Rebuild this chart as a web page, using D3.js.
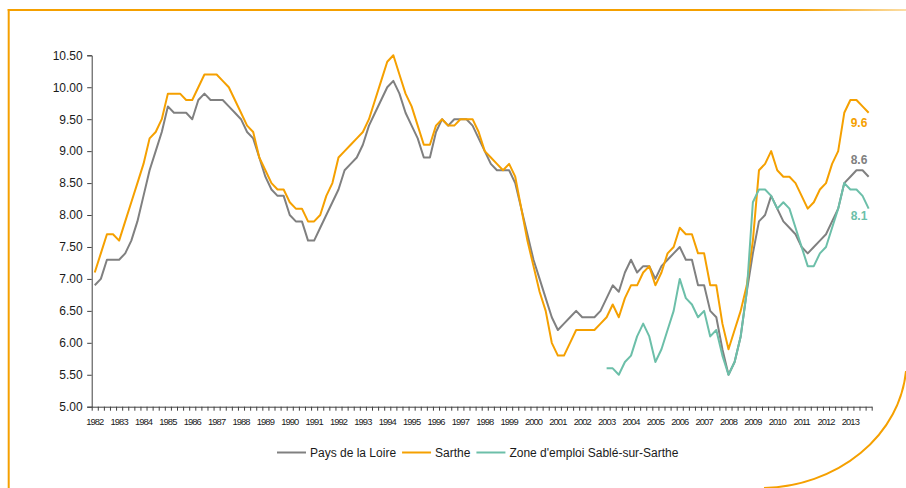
<!DOCTYPE html>
<html>
<head>
<meta charset="utf-8">
<script src="https://cdn.jsdelivr.net/npm/d3@7"></script>
<style>
  body { margin: 0; background: #fff; }
  svg { display: block; font-family: "Liberation Sans", Arial, sans-serif; }
</style>
</head>
<body>
<svg id="chart" width="906" height="488"></svg>
<script>
// categories: one per quarter, labelled with the year on the 1st quarter
const years = [1982, 1983, 1984, 1985, 1986, 1987, 1988, 1989, 1990, 1991, 1992,
  1993, 1994, 1995, 1996, 1997, 1998, 1999, 2000, 2001, 2002, 2003, 2004, 2005,
  2006, 2007, 2008, 2009, 2010, 2011, 2012, 2013];
const quarters = ["T1", "T2", "T3", "T4"];

// taux de chomage (%)
const paysDeLaLoire = [
  6.9, 7.0, 7.3, 7.3, 7.3, 7.4, 7.6, 7.9, 8.3, 8.7, 9.0, 9.3, 9.7, 9.6, 9.6, 9.6,
  9.5, 9.8, 9.9, 9.8, 9.8, 9.8, 9.7, 9.6, 9.5, 9.3, 9.2, 8.9, 8.6, 8.4, 8.3, 8.3,
  8.0, 7.9, 7.9, 7.6, 7.6, 7.8, 8.0, 8.2, 8.4, 8.7, 8.8, 8.9, 9.1, 9.4, 9.6, 9.8,
  10.0, 10.1, 9.9, 9.6, 9.4, 9.2, 8.9, 8.9, 9.3, 9.5, 9.4, 9.5, 9.5, 9.5, 9.4, 9.2,
  9.0, 8.8, 8.7, 8.7, 8.7, 8.5, 8.1, 7.7, 7.3, 7.0, 6.7, 6.4, 6.2, 6.3, 6.4, 6.5,
  6.4, 6.4, 6.4, 6.5, 6.7, 6.9, 6.8, 7.1, 7.3, 7.1, 7.2, 7.2, 7.0, 7.2, 7.3, 7.4,
  7.5, 7.3, 7.3, 6.9, 6.9, 6.5, 6.4, 5.9, 5.5, 5.7, 6.1, 6.8, 7.4, 7.9, 8.0, 8.3,
  8.1, 7.9, 7.8, 7.7, 7.5, 7.4, 7.5, 7.6, 7.7, 7.9, 8.1, 8.5, 8.6, 8.7, 8.7, 8.6
];
const sarthe = [
  7.1, 7.4, 7.7, 7.7, 7.6, 7.9, 8.2, 8.5, 8.8, 9.2, 9.3, 9.5, 9.9, 9.9, 9.9, 9.8,
  9.8, 10.0, 10.2, 10.2, 10.2, 10.1, 10.0, 9.8, 9.6, 9.4, 9.3, 8.9, 8.7, 8.5, 8.4, 8.4,
  8.2, 8.1, 8.1, 7.9, 7.9, 8.0, 8.3, 8.5, 8.9, 9.0, 9.1, 9.2, 9.3, 9.5, 9.8, 10.1,
  10.4, 10.5, 10.2, 9.9, 9.7, 9.4, 9.1, 9.1, 9.4, 9.5, 9.4, 9.4, 9.5, 9.5, 9.5, 9.3,
  9.0, 8.9, 8.8, 8.7, 8.8, 8.6, 8.1, 7.6, 7.2, 6.8, 6.5, 6.0, 5.8, 5.8, 6.0, 6.2,
  6.2, 6.2, 6.2, 6.3, 6.4, 6.6, 6.4, 6.7, 6.9, 6.9, 7.1, 7.2, 6.9, 7.1, 7.4, 7.5,
  7.8, 7.7, 7.7, 7.4, 7.4, 6.9, 6.9, 6.3, 5.9, 6.2, 6.5, 6.9, 7.6, 8.7, 8.8, 9.0,
  8.7, 8.6, 8.6, 8.5, 8.3, 8.1, 8.2, 8.4, 8.5, 8.8, 9.0, 9.6, 9.8, 9.8, 9.7, 9.6
];
// zone d'emploi series starts in 2003
const sableStart = "2003-T1";
const sable = [
  5.6, 5.6, 5.5, 5.7, 5.8, 6.1, 6.3, 6.1, 5.7, 5.9, 6.2, 6.5, 7.0, 6.7, 6.6, 6.4,
  6.5, 6.1, 6.2, 5.8, 5.5, 5.7, 6.1, 6.8, 8.2, 8.4, 8.4, 8.3, 8.1, 8.2, 8.1, 7.8,
  7.5, 7.2, 7.2, 7.4, 7.5, 7.8, 8.1, 8.5, 8.4, 8.4, 8.3, 8.1
];

const yTicks = [5, 5.5, 6, 6.5, 7, 7.5, 8, 8.5, 9, 9.5, 10, 10.5];
const seriesNames = ["Pays de la Loire", "Sarthe", "Zone d'emploi Sablé-sur-Sarthe"];
const seriesColors = ["#808080", "#F5A000", "#6CBFA9"];
const frameColor = "#F5A000";

const periods = years.flatMap(yr => quarters.map(q => yr + "-" + q));
const sablePeriods = periods.slice(periods.indexOf(sableStart));

const series = [
  { name: seriesNames[0], color: seriesColors[0], values: periods.map((p, i) => ({ p, v: paysDeLaLoire[i] })), dy: -13 },
  { name: seriesNames[1], color: seriesColors[1], values: periods.map((p, i) => ({ p, v: sarthe[i] })), dy: 14 },
  { name: seriesNames[2], color: seriesColors[2], values: sablePeriods.map((p, i) => ({ p, v: sable[i] })), dy: 11.5 }
];

const svg = d3.select("#chart");

// frame decoration (orange border, fading at the right, and round corner)
const grad = svg.append("defs").append("linearGradient")
  .attr("id", "topfade").attr("x1", "0").attr("x2", "1").attr("y1", "0").attr("y2", "0");
grad.append("stop").attr("offset", "0.88").attr("stop-color", frameColor).attr("stop-opacity", 1);
grad.append("stop").attr("offset", "1").attr("stop-color", frameColor).attr("stop-opacity", 0.35);

svg.append("rect")
  .attr("x", 7.7).attr("y", 9).attr("width", 898.3).attr("height", 2)
  .attr("fill", "url(#topfade)");
svg.append("line")
  .attr("x1", 8.7).attr("x2", 8.7).attr("y1", 9).attr("y2", 488)
  .attr("stroke", frameColor).attr("stroke-width", 2);
svg.append("path")
  .attr("d", "M906,371 A147,128 0 0 1 764,488")
  .attr("fill", "none").attr("stroke", frameColor).attr("stroke-width", 2);

// scales
const plotLeft = 91.7, plotRight = 871.7, plotTop = 55.3, plotBottom = 406.7;
const x = d3.scaleBand().domain(periods).range([plotLeft, plotRight]).padding(0);
const xIdx = d3.scaleLinear().domain([0, periods.length]).range([plotLeft, plotRight]);
const y = d3.scaleLinear().domain([5, 10.5]).range([plotBottom, plotTop]);
const cx = p => x(p) + x.bandwidth() / 2;

// y axis
const gy = svg.append("g")
  .attr("transform", `translate(${plotLeft},0)`)
  .call(d3.axisLeft(y).tickValues(yTicks).tickFormat(d3.format(".2f")).tickSize(4.5).tickPadding(4.5));
gy.selectAll("path, line").attr("stroke", "#404040");
gy.selectAll("text").attr("font-size", 12).attr("fill", "#1a1a1a")
  .attr("font-family", "Liberation Sans, Arial, sans-serif");

// x axis: tick marks between quarters
const gx = svg.append("g")
  .attr("transform", `translate(0,${plotBottom})`)
  .call(d3.axisBottom(xIdx).tickValues(d3.range(periods.length + 1)).tickFormat("").tickSize(4).tickSizeOuter(0));
gx.selectAll("path, line").attr("stroke", "#404040");

// x axis: year labels on first quarter
const gxl = svg.append("g")
  .attr("transform", `translate(0,${plotBottom})`)
  .call(d3.axisBottom(x).tickValues(periods.filter(p => p.endsWith("T1")))
    .tickFormat(p => p.slice(0, 4)).tickSize(0).tickPadding(11.5));
gxl.select(".domain").remove();
gxl.selectAll("text").attr("font-size", 9.4).attr("fill", "#1a1a1a")
  .attr("letter-spacing", "-0.95px")
  .attr("font-family", "Liberation Sans, Arial, sans-serif");

// lines
const line = d3.line().x(d => cx(d.p)).y(d => y(d.v));
svg.append("g").selectAll("path")
  .data(series)
  .join("path")
  .attr("d", d => line(d.values))
  .attr("fill", "none")
  .attr("stroke", d => d.color)
  .attr("stroke-width", 2)
  .attr("stroke-linejoin", "round");

// end labels
svg.append("g").selectAll("text")
  .data(series)
  .join("text")
  .attr("x", d => cx(d.values[d.values.length - 1].p) - 18)
  .attr("y", d => y(d.values[d.values.length - 1].v) + d.dy)
  .attr("font-size", 12).attr("font-weight", "bold")
  .attr("fill", d => d.color)
  .text(d => d3.format(".1f")(d.values[d.values.length - 1].v));

// legend
const legend = svg.append("g").attr("transform", "translate(277,452.5)");
let lx = 0;
series.forEach(s => {
  const g = legend.append("g").attr("transform", `translate(${lx},0)`);
  g.append("line").attr("x1", 0).attr("x2", 29).attr("y1", 0).attr("y2", 0)
    .attr("stroke", s.color).attr("stroke-width", 2);
  const t = g.append("text").attr("x", 33).attr("y", 0).attr("dy", "0.35em")
    .attr("font-size", 12).attr("fill", "#1a1a1a").text(s.name);
  lx += 33 + t.node().getComputedTextLength() + 6;
});
</script>
</body>
</html>
